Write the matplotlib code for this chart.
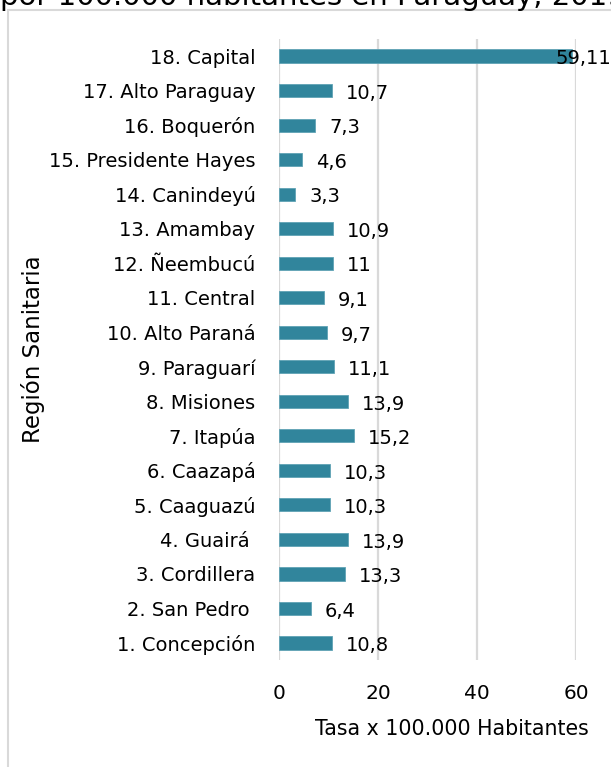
import matplotlib
matplotlib.use("Agg")
import matplotlib.pyplot as plt
from matplotlib.patches import Rectangle

regions = ["1. Concepción", "2. San Pedro ", "3. Cordillera", "4. Guairá ", "5. Caaguazú",
           "6. Caazapá", "7. Itapúa", "8. Misiones", "9. Paraguarí", "10. Alto Paraná",
           "11. Central", "12. Ñeembucú", "13. Amambay", "14. Canindeyú",
           "15. Presidente Hayes", "16. Boquerón", "17. Alto Paraguay", "18. Capital"]
values = [10.8, 6.4, 13.3, 13.9, 10.3, 10.3, 15.2, 13.9, 11.1, 9.7,
          9.1, 11.0, 10.9, 3.3, 4.6, 7.3, 10.7, 59.11]
value_labels = ["10,8", "6,4", "13,3", "13,9", "10,3", "10,3", "15,2", "13,9", "11,1", "9,7",
                "9,1", "11", "10,9", "3,3", "4,6", "7,3", "10,7", "59,11"]
x_ticks = [0, 20, 40, 60]
title_tail = "por 100.000 habitantes en Paraguay, 2019"
x_label = "Tasa x 100.000 Habitantes"
y_label = "Región Sanitaria"

plt.rcParams["font.family"] = ["DejaVu Sans"]

W, H = 611, 767
fig = plt.figure(figsize=(W / 100, H / 100), dpi=100)
fig.patch.set_facecolor("white")

# chart border (partially cropped)
fig.add_artist(Rectangle((8 / W, -0.1), 1.2, (H - 10) / H + 0.1, transform=fig.transFigure,
                         fill=False, edgecolor="#D9D9D9", linewidth=1.5))

# cropped title line
fig.text(0 / W, 1 - 5 / H, title_tail, fontsize=21, ha="left", va="baseline", color="#000000")

left, right = 279 / W, 576 / W
top, bottom = 1 - 38.75 / H, 1 - 660.3 / H
ax = fig.add_axes([left, bottom, right - left, top - bottom])

ypos = list(range(len(regions)))
ax.barh(ypos, values, height=0.38, color="#31859C", edgecolor="#5FA3B5", linewidth=0.6, zorder=3)
ax.set_ylim(-0.5, len(regions) - 0.5)
ax.set_xlim(0, 60)
ax.set_xticks(x_ticks)
ax.set_xticklabels([str(t) for t in x_ticks])
ax.set_yticks(ypos)
ax.set_yticklabels(regions)
ax.tick_params(axis="y", length=0, pad=17, labelsize=14)
ax.tick_params(axis="x", length=0, pad=17, labelsize=14.5)
for s in ax.spines.values():
    s.set_visible(False)
ax.grid(axis="x", color="#D9D9D9", linewidth=1.6, zorder=0)
ax.set_axisbelow(True)

for y, v, lab in zip(ypos, values, value_labels):
    if v > 50:
        ax.annotate(lab, xy=(1.0, y), xycoords=("figure fraction", "data"),
                    ha="right", va="center", fontsize=14, xytext=(0, -2),
                    textcoords="offset points", zorder=4)
    else:
        ax.annotate(lab, xy=(v, y), xytext=(10, -2), textcoords="offset points",
                    ha="left", va="center", fontsize=14, zorder=4)

ax.set_xlabel(x_label, fontsize=14.8)
ax.xaxis.label.set_va("center")
ax.xaxis.set_label_coords((452 - 279) / 297, -(729 - 660.3) / 621.5)
ax.set_ylabel(y_label, fontsize=16.5)
ax.yaxis.label.set_va("center")
ax.yaxis.set_label_coords((33 - 279) / 297, 0.5)

fig.savefig("out.png", dpi=100)
